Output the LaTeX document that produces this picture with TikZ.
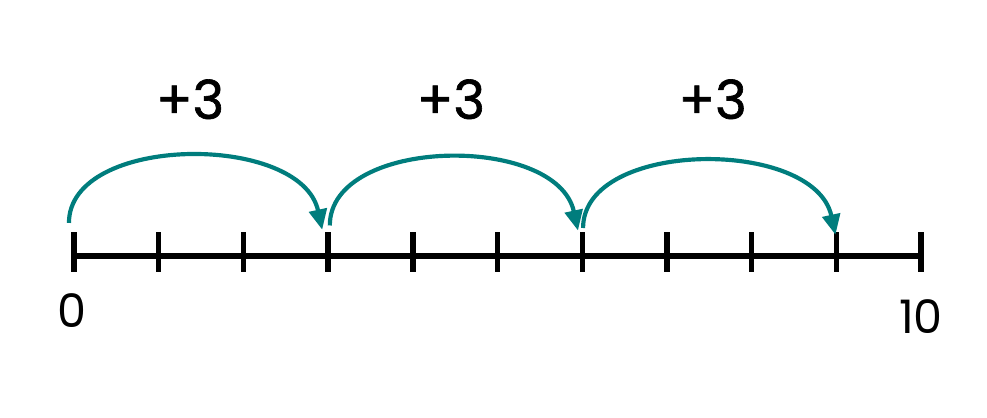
\documentclass[tikz,border=0pt]{standalone}
\usepackage{fontspec}
\setmainfont{Poppins}
\newfontfamily\stepfont{Poppins}[FakeBold=1.2]
\usetikzlibrary{arrows.meta}
\definecolor{jumpteal}{RGB}{0,125,125}
\tikzstyle{tick}=[line width=1.8pt]
\tikzstyle{jump}=[jumpteal,line width=1.4pt,-{Triangle[length=2.4mm,width=2.1mm]}]
\tikzstyle{steplabel}=[font=\stepfont\fontsize{18}{20}\selectfont]
\tikzstyle{endlabel}=[font=\fontsize{15.5}{18}\selectfont]

\begin{document}
\begin{tikzpicture}
\useasboundingbox (-0.874,-1.913) rectangle (10.779,3.022);
\foreach \i in {0,...,10}{
\coordinate (t\i) at (\i,0);
\draw[tick] (\i,0.28)--(\i,-0.19);
}
\draw[tick] (t0)--(t10);
\draw[jump] ([shift={(-0.06,0.39)}]t0) .. controls +(0,1.05) and +(-0.25,1.15) .. ([shift={(-0.07,0.31)}]t3);
\draw[jump] ([shift={(0.02,0.36)}]t3) .. controls +(0,1.05) and +(-0.25,1.15) .. ([shift={(-0.05,0.3)}]t6);
\draw[jump] ([shift={(0.01,0.33)}]t6) .. controls +(0,1.05) and +(-0.25,1.15) .. ([shift={(-0.01,0.25)}]t9);
\node[steplabel] (p1) at (1.37,1.85) {+3};
\node[steplabel] (p2) at (4.45,1.85) {+3};
\node[steplabel] (p3) at (7.54,1.85) {+3};
\node[endlabel] (n0) at (-0.02,-0.64) {0};
\node[endlabel] (n10) at (10.0,-0.72) {10};
\end{tikzpicture}
\end{document}
